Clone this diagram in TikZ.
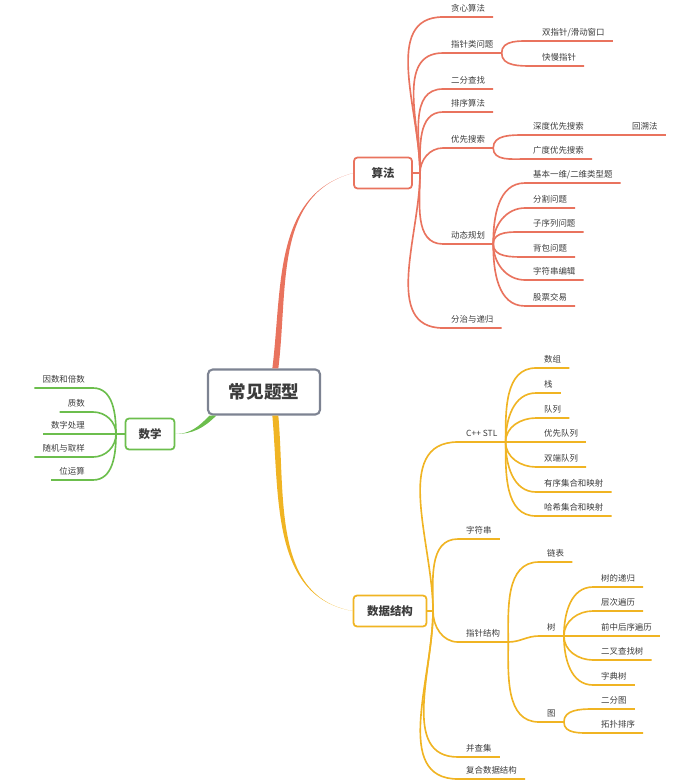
\documentclass[tikz,border=0pt]{standalone}
\usepackage{fontspec}
\setmainfont{Noto Sans CJK SC}
\definecolor{algred}{RGB}{233,115,94}
\definecolor{mathgreen}{RGB}{108,190,77}
\definecolor{dsyellow}{RGB}{240,180,35}
\definecolor{rootgray}{RGB}{125,131,146}
\definecolor{txtgray}{RGB}{60,60,60}
\begin{document}
\begin{tikzpicture}[
	x=0.03cm, y=-0.03cm,                      % 1 unit = 1 pixel of the reference
	topic/.style={anchor=south west, inner xsep=0.24cm, inner ysep=4.9pt, text depth=0pt,
		text=txtgray, font=\fontsize{7.2}{8.6}\selectfont},
	ltopic/.style={topic, anchor=south east},  % text left of its line (math side)
	subject/.style={draw, rounded corners=3pt, line width=1.5pt, fill=white, text=txtgray,
		minimum height=0.93cm, font=\fontsize{9.8}{11}\selectfont\bfseries},
	algline/.style={draw=algred, line width=1.4pt},
	mathline/.style={draw=mathgreen, line width=1.4pt},
	dsline/.style={draw=dsyellow, line width=1.4pt}
	]
	\useasboundingbox (0,0) rectangle (673,780);

	% centre and the three subjects
	\node[draw=rootgray, rounded corners=4pt, line width=1.8pt, fill=white, text=txtgray,
		minimum width=3.36cm, minimum height=1.35cm, font=\fontsize{15}{17}\selectfont\bfseries]
		(root) at (264,392) {常见题型};
	\node[subject, draw=algred, minimum width=1.74cm] (alg) at (383,173) {算法};
	\node[subject, draw=mathgreen, minimum width=1.47cm] (math) at (150,434) {数学};
	\node[subject, draw=dsyellow, minimum width=2.19cm] (ds) at (390,611) {数据结构};

	% tapered main branches
	\fill[algred] ([xshift=0.25cm]root.north) to[out=83,in=195] (alg.west)
		to[out=195,in=83] ([xshift=0.43cm]root.north) -- cycle;
	\fill[dsyellow] ([xshift=0.25cm]root.south) to[out=-85,in=170] (ds.west)
		to[out=170,in=-85] ([xshift=0.43cm]root.south) -- cycle;
	\fill[mathgreen] ([xshift=0.08cm]root.south west) to[out=-135,in=0] (math.east)
		to[out=0,in=-135] ([xshift=0.28cm]root.south west) -- cycle;

	% 算法
	\coordinate (algT) at (420,173);
	\node[topic] (greedy) at (443,17) {贪心算法};
	\node[topic] (ptr) at (443,53) {指针类问题};
	\node[topic] (twoptr) at (534,41) {双指针/滑动窗口};
	\node[topic] (fastslow) at (534,66) {快慢指针};
	\node[topic] (binsearch) at (443,89) {二分查找};
	\node[topic] (sorting) at (443,112) {排序算法};
	\node[topic] (search) at (443,148) {优先搜索};
	\node[topic] (dfs) at (525,135) {深度优先搜索};
	\node[topic] (backtrack) at (624,135) {回溯法};
	\node[topic] (bfs) at (525,159) {广度优先搜索};
	\node[topic] (dp) at (443,244) {动态规划};
	\node[topic] (dpbasic) at (525,183) {基本一维/二维类型题};
	\node[topic] (dpsplit) at (525,208) {分割问题};
	\node[topic] (dpseq) at (525,232) {子序列问题};
	\node[topic] (dpbag) at (525,257) {背包问题};
	\node[topic] (dpedit) at (525,280) {字符串编辑};
	\node[topic] (dpstock) at (525,306) {股票交易};
	\node[topic] (divide) at (443,328) {分治与递归};

	\draw[algline] (alg.east) -- (algT);
	\foreach \n in {greedy,ptr,binsearch,sorting,search}
		\draw[algline] (algT) to[out=90,in=180] (\n.south west) -- (\n.south east);
	\foreach \n in {dp,divide}
		\draw[algline] (algT) to[out=-90,in=180] (\n.south west) -- (\n.south east);
	\foreach \n/\a in {twoptr/90,fastslow/-90}
		\draw[algline] (ptr.south east) to[out=\a,in=180] (\n.south west) -- (\n.south east);
	\foreach \n/\a in {dfs/90,bfs/-90}
		\draw[algline] (search.south east) to[out=\a,in=180] (\n.south west) -- (\n.south east);
	\draw[algline] (dfs.south east) -- (backtrack.south west) -- (backtrack.south east);
	\foreach \n/\a in {dpbasic/90,dpsplit/90,dpseq/90,dpbag/-90,dpedit/-90,dpstock/-90}
		\draw[algline] (dp.south east) to[out=\a,in=180] (\n.south west) -- (\n.south east);

	% 数学
	\coordinate (mathT) at (116,434);
	\node[ltopic] (factor) at (93,388) {因数和倍数};
	\node[ltopic] (prime) at (93,412) {质数};
	\node[ltopic] (digits) at (93,434) {数字处理};
	\node[ltopic] (random) at (93,457) {随机与取样};
	\node[ltopic] (bitop) at (93,480) {位运算};

	\draw[mathline] (math.west) -- (mathT);
	\foreach \n in {factor,prime}
		\draw[mathline] (mathT) to[out=90,in=0] (\n.south east) -- (\n.south west);
	\draw[mathline] (mathT) -- (digits.south east) -- (digits.south west);
	\foreach \n in {random,bitop}
		\draw[mathline] (mathT) to[out=-90,in=0] (\n.south east) -- (\n.south west);

	% 数据结构
	\coordinate (dsT) at (433,611);
	\node[topic] (stl) at (458,442) {C++ STL};
	\node[topic] (array) at (536,368) {数组};
	\node[topic] (stack) at (536,393) {栈};
	\node[topic] (queue) at (536,418) {队列};
	\node[topic] (pqueue) at (536,442) {优先队列};
	\node[topic] (deque) at (536,467) {双端队列};
	\node[topic] (ordset) at (536,492) {有序集合和映射};
	\node[topic] (hashset) at (536,516) {哈希集合和映射};
	\node[topic] (string) at (458,539) {字符串};
	\node[topic] (pstruct) at (458,642) {指针结构};
	\node[topic] (linked) at (539,562) {链表};
	\node[topic] (tree) at (539,636) {树};
	\node[topic] (treerec) at (593,587) {树的递归};
	\node[topic] (levelord) at (593,611) {层次遍历};
	\node[topic] (travord) at (593,636) {前中后序遍历};
	\node[topic] (bst) at (593,660) {二叉查找树};
	\node[topic] (trie) at (593,685) {字典树};
	\node[topic] (graph) at (539,722) {图};
	\node[topic] (bipart) at (593,709) {二分图};
	\node[topic] (topo) at (593,733) {拓扑排序};
	\node[topic] (unionfind) at (458,757) {并查集};
	\node[topic] (compound) at (458,779) {复合数据结构};

	\draw[dsline] (ds.east) -- (dsT);
	\foreach \n in {stl,string}
		\draw[dsline] (dsT) to[out=90,in=180] (\n.south west) -- (\n.south east);
	\foreach \n in {pstruct,unionfind,compound}
		\draw[dsline] (dsT) to[out=-90,in=180] (\n.south west) -- (\n.south east);
	\foreach \n/\a in {array/90,stack/90,queue/90,deque/-90,ordset/-90,hashset/-90}
		\draw[dsline] (stl.south east) to[out=\a,in=180] (\n.south west) -- (\n.south east);
	\draw[dsline] (stl.south east) -- (pqueue.south west) -- (pqueue.south east);
	\foreach \n/\a in {linked/90,tree/0,graph/-90}
		\draw[dsline] (pstruct.south east) to[out=\a,in=180] (\n.south west) -- (\n.south east);
	\foreach \n/\a in {treerec/90,levelord/90,bst/-90,trie/-90}
		\draw[dsline] (tree.south east) to[out=\a,in=180] (\n.south west) -- (\n.south east);
	\draw[dsline] (tree.south east) -- (travord.south west) -- (travord.south east);
	\foreach \n/\a in {bipart/90,topo/-90}
		\draw[dsline] (graph.south east) to[out=\a,in=180] (\n.south west) -- (\n.south east);
\end{tikzpicture}
\end{document}
